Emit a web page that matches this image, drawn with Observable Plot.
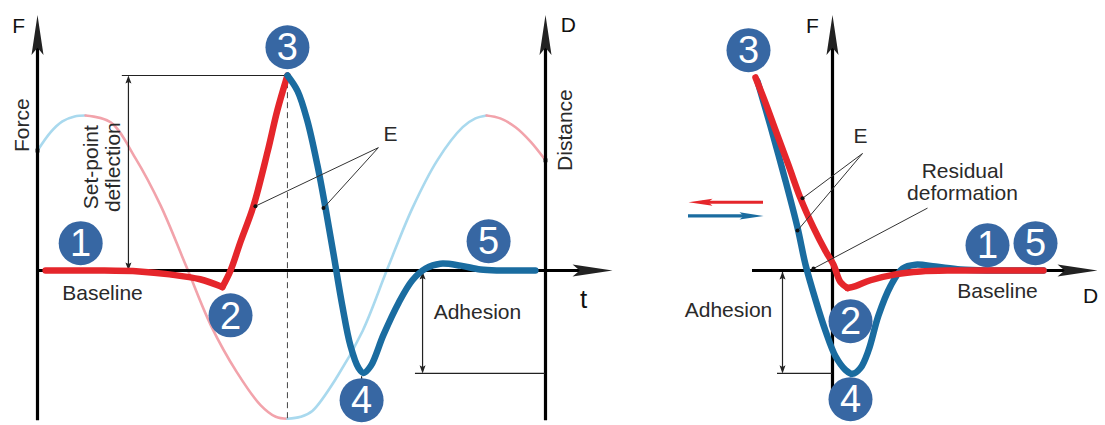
<!DOCTYPE html>
<html><head><meta charset="utf-8">
<script src="https://cdn.jsdelivr.net/npm/d3@7"></script>
<script src="https://cdn.jsdelivr.net/npm/@observablehq/plot@0.6"></script>
<style>
body{margin:0;background:#fff}
#wrap{display:flex;width:1105px;height:425px;overflow:hidden}
svg{display:block}
</style>
</head><body><div id="wrap"></div><script>
// ---------- data: left panel (time t, force F / distance D, normalised) ----------
const approachDip = [[0.16,0],[1.2,0],[2.0,-0.005],[2.6,-0.02],[3.2,-0.045],[3.64,-0.085]];
const approachRise = [[3.64,-0.085],[3.8,0],[4.0,0.15],[4.25,0.33],[4.53,0.61],[4.72,0.82],[4.92,1.0]];
const retractLeft = [[4.92,1.0],[5.12,0.92],[5.31,0.77],[5.51,0.54],[5.67,0.32],[5.83,0.08],[6.0,-0.18],[6.16,-0.385],[6.32,-0.50],[6.42,-0.525],[6.56,-0.49],[6.81,-0.33],[7.11,-0.165],[7.38,-0.05],[7.64,0.01],[7.93,0.035],[8.33,0.025],[8.72,0.005],[9.11,0],[9.8,0]];
const distRise1 = [[0,0.615],[0.26,0.71],[0.49,0.765],[0.73,0.79],[0.945,0.795]];
const distFall1 = [[0.945,0.795],[1.44,0.76],[1.93,0.575],[2.42,0.335],[2.93,0.02],[3.41,-0.28],[3.92,-0.52],[4.39,-0.69],[4.69,-0.75],[4.92,-0.76]];
const distRise2 = [[4.92,-0.76],[5.18,-0.75],[5.41,-0.72],[5.91,-0.54],[6.4,-0.31],[6.89,0.01],[7.38,0.32],[7.87,0.565],[8.37,0.735],[8.62,0.78],[8.84,0.795]];
const distFall2 = [[8.84,0.795],[9.11,0.78],[9.41,0.735],[9.71,0.66],[10.0,0.565]];
const stepsLeft = [{n:"1",x:0.85,y:0.14},{n:"2",x:3.8,y:-0.23},{n:"3",x:4.92,y:1.145},{n:"4",x:6.38,y:-0.665},{n:"5",x:8.88,y:0.15}];

// ---------- data: right panel (distance D, force F) ----------
const approachRightLoad = [[-1.54,0.99],[-1.34,0.86],[-1.14,0.72],[-0.88,0.54],[-0.64,0.37],[-0.38,0.22],[-0.14,0.10],[0.02,0.03],[0.16,-0.06],[0.30,-0.09]];
const approachRightTail = [[0.30,-0.09],[0.46,-0.08],[0.76,-0.05],[1.26,-0.02],[1.76,-0.005],[2.36,0],[3.36,0],[4.22,0]];
const retractRight = [[-1.50,0.97],[-1.24,0.74],[-0.94,0.46],[-0.70,0.22],[-0.54,0.03],[-0.34,-0.15],[-0.14,-0.31],[0.06,-0.44],[0.26,-0.51],[0.40,-0.53],[0.56,-0.50],[0.72,-0.41],[0.92,-0.23],[1.16,-0.08],[1.40,0.01],[1.66,0.03],[2.06,0.02],[2.56,0.005],[3.16,0],[4.22,0]];
const stepsRight = [{n:"3",x:-1.68,y:1.13},{n:"2",x:0.36,y:-0.26},{n:"4",x:0.36,y:-0.66},{n:"1",x:3.1,y:0.13},{n:"5",x:4.06,y:0.14}];

// ---------- style ----------
const RED = "#e5262b", BLUE = "#1a6ca0", LBLUE = "#a9d9ee", PINK = "#f2a3ab", CIRC = "#3767a3", INK = "#222";
const FONT = "'Liberation Sans', Arial, sans-serif";
const pts = a => a.map(([x, y]) => ({x, y}));

// long narrow filled arrowhead, tip at origin pointing up
const axisHead = {draw(ctx, size) {const r = Math.sqrt(size / Math.PI), L = r * 4, w = r * 0.6;
  ctx.moveTo(0, 0); ctx.lineTo(w, L); ctx.lineTo(0, L * 0.82); ctx.lineTo(-w, L); ctx.closePath();}};
const smallHead = {draw(ctx, size) {const r = Math.sqrt(size / Math.PI), L = r * 2.7, w = r;
  ctx.moveTo(0, 0); ctx.lineTo(w, L); ctx.lineTo(0, L * 0.8); ctx.lineTo(-w, L); ctx.closePath();}};

const thick = (data, color) => Plot.line(pts(data), {x: "x", y: "y", stroke: color, strokeWidth: 6.5, curve: "catmull-rom"});
const thin = (data, color) => Plot.line(pts(data), {x: "x", y: "y", stroke: color, strokeWidth: 2.6, curve: "catmull-rom"});
const heads = (data, sym, r) => Plot.dot(data, {x: "x", y: "y", rotate: "rot", symbol: sym, r, fill: INK, stroke: "none"});
const circles = data => [
  Plot.dot(data, {x: "x", y: "y", r: 22, fill: CIRC, stroke: "none"}),
  Plot.text(data, {x: "x", y: "y", text: "n", fill: "white", fontSize: 38, dy: 1})
];
const label = (data, opts = {}) => Plot.text(data, {x: "x", y: "y", text: "t", fill: "#2a2a2a", fontSize: 21, ...opts});

// ---------- left panel ----------
const left = Plot.plot({
  width: 640, height: 425, margin: 0, axis: null,
  x: {type: "linear", domain: [0, 10], range: [37, 545]},
  y: {type: "linear", domain: [0, 1], range: [270, 75]},
  style: {fontFamily: FONT, background: "white", overflow: "visible"},
  marks: [
    thin(distRise1, LBLUE), thin(distFall1, PINK), thin(distRise2, LBLUE), thin(distFall2, PINK),
    Plot.dot([{x: 0, y: 0.615}, {x: 10, y: 0.565}], {x: "x", y: "y", symbol: "square", r: 2.2, fill: "#111"}),
    // dashed line under peak 3
    Plot.ruleX([4.92], {y1: -0.76, y2: 1, stroke: "#444", strokeWidth: 1, strokeDasharray: "6,4"}),
    // axes
    Plot.ruleX([0, 10], {y1: -0.77, y2: 1.15, stroke: "#000", strokeWidth: 3.2}),
    Plot.ruleY([0], {x1: 0, x2: 11.0, stroke: "#000", strokeWidth: 3}),
    heads([{x: 0, y: 1.31, rot: 0}, {x: 10, y: 1.31, rot: 0}, {x: 11.32, y: 0, rot: 90}], axisHead, 10),
    // set-point deflection
    Plot.ruleY([1], {x1: 1.67, x2: 4.92, stroke: INK, strokeWidth: 1.2}),
    Plot.ruleX([1.79], {y1: 0.02, y2: 0.98, stroke: INK, strokeWidth: 1.2}),
    heads([{x: 1.79, y: 1, rot: 0}, {x: 1.79, y: 0, rot: 180}], smallHead, 3),
    // adhesion
    Plot.ruleX([7.58], {y1: -0.01, y2: -0.52, stroke: INK, strokeWidth: 1.2}),
    Plot.ruleY([-0.528], {x1: 7.44, x2: 10, stroke: INK, strokeWidth: 1.2}),
    heads([{x: 7.58, y: -0.005, rot: 0}, {x: 7.58, y: -0.528, rot: 180}], smallHead, 3),
    Plot.ruleX([6.38], {y1: -0.545, y2: -0.6, stroke: INK, strokeWidth: 1.2}),
    // force curves
    thick(approachDip, RED), thick(approachRise, RED), thick(retractLeft, BLUE),
    // E pointers
    Plot.link([{x2: 4.29, y2: 0.33}, {x2: 5.63, y2: 0.32}], {x1: 6.71, y1: 0.63, x2: "x2", y2: "y2", stroke: "#333", strokeWidth: 1}),
    Plot.dot([{x: 4.29, y: 0.33}, {x: 5.63, y: 0.32}], {x: "x", y: "y", r: 2, fill: "#111"}),
    ...circles(stepsLeft),
    label([{t: "F", x: -0.37, y: 1.25}, {t: "D", x: 10.45, y: 1.26}], {fontSize: 21, fill: "#111"}),
    label([{t: "t", x: 10.75, y: -0.15}], {fontSize: 26, fill: "#111"}),
    label([{t: "Force", x: -0.3, y: 0.745}, {t: "Distance", x: 10.39, y: 0.72}], {rotate: -90}),
    label([{t: "Set-point\ndeflection", x: 1.27, y: 0.53}], {rotate: -90, lineHeight: 1.05}),
    label([{t: "Baseline", x: 1.28, y: -0.115}, {t: "Adhesion", x: 8.66, y: -0.215}]),
    label([{t: "E", x: 6.95, y: 0.70}])
  ]
});

// ---------- right panel ----------
const right = Plot.plot({
  width: 465, height: 425, margin: 0, axis: null,
  x: {type: "linear", domain: [0, 1], range: [192, 242]},
  y: {type: "linear", domain: [0, 1], range: [270, 75]},
  style: {fontFamily: FONT, background: "white", overflow: "visible"},
  marks: [
    // axes
    Plot.ruleX([0], {y1: -0.62, y2: 1.15, stroke: "#000", strokeWidth: 3.2}),
    Plot.ruleY([0], {x1: -1.6, x2: 4.95, stroke: "#000", strokeWidth: 3}),
    heads([{x: 0, y: 1.31, rot: 0}, {x: 5.3, y: 0, rot: 90}], axisHead, 10),
    // adhesion
    Plot.ruleX([-1.0], {y1: -0.01, y2: -0.52, stroke: INK, strokeWidth: 1.2}),
    Plot.ruleY([-0.528], {x1: -1.1, x2: 0, stroke: INK, strokeWidth: 1.2}),
    heads([{x: -1.0, y: -0.005, rot: 0}, {x: -1.0, y: -0.528, rot: 180}], smallHead, 3),
    // direction arrows
    Plot.ruleY([0.35], {x1: -1.38, x2: -2.6, stroke: RED, strokeWidth: 3.2}),
    Plot.ruleY([0.28], {x1: -2.88, x2: -1.66, stroke: BLUE, strokeWidth: 3.2}),
    Plot.dot([{x: -2.88, y: 0.35, rot: -90, c: RED}, {x: -1.38, y: 0.28, rot: 90, c: BLUE}],
      {x: "x", y: "y", rotate: "rot", symbol: axisHead, r: 6, fill: "c", stroke: "none"}),
    // force curves
    thick(retractRight, BLUE), thick(approachRightLoad, RED), thick(approachRightTail, RED),
    // pointers
    Plot.link([{x2: -0.6, y2: 0.37}, {x2: -0.7, y2: 0.205}], {x1: 0.6, y1: 0.6, x2: "x2", y2: "y2", stroke: "#333", strokeWidth: 1}),
    Plot.link([{x2: -0.38, y2: 0.01}], {x1: 1.9, y1: 0.32, x2: "x2", y2: "y2", stroke: "#333", strokeWidth: 1}),
    Plot.dot([{x: -0.6, y: 0.37}, {x: -0.7, y: 0.205}, {x: -0.38, y: 0.01}], {x: "x", y: "y", r: 2, fill: "#111"}),
    ...circles(stepsRight),
    label([{t: "F", x: -0.4, y: 1.25}], {fill: "#111"}),
    label([{t: "D", x: 5.16, y: -0.13}], {fill: "#111"}),
    label([{t: "E", x: 0.56, y: 0.69}]),
    label([{t: "Residual\ndeformation", x: 2.6, y: 0.455}], {lineHeight: 1.08}),
    label([{t: "Baseline", x: 3.3, y: -0.105}, {t: "Adhesion", x: -2.08, y: -0.205}])
  ]
});

document.getElementById("wrap").append(left, right);
</script></body></html>
